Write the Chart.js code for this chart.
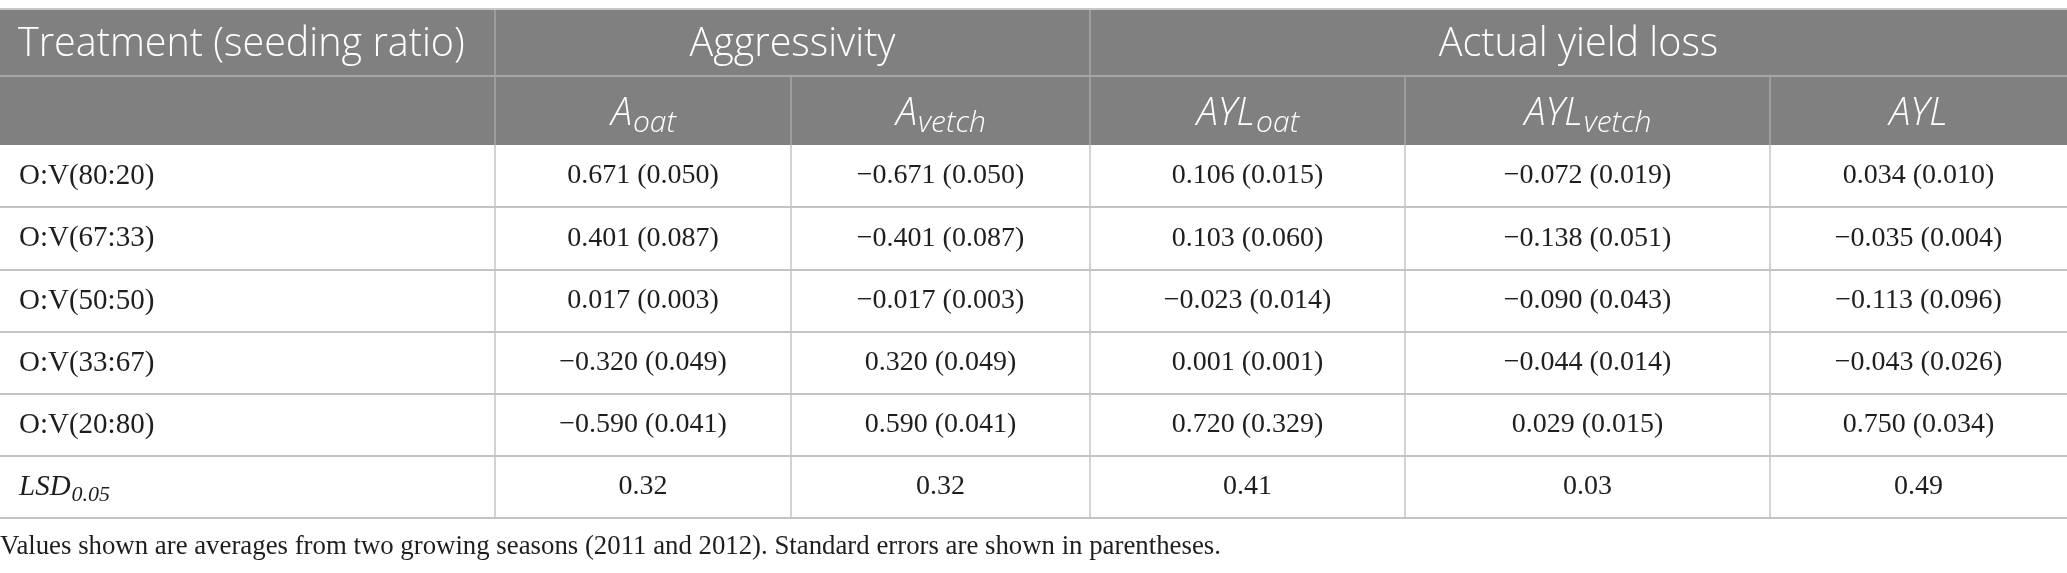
<!DOCTYPE html>
<html>
<head>
<meta charset="utf-8">
<script src="https://cdn.jsdelivr.net/npm/chart.js@4.4.0/dist/chart.umd.min.js"></script>
<style>
  html, body { margin: 0; padding: 0; background: #fff; }
  #wrap { width: 2067px; height: 573px; position: relative; }
</style>
</head>
<body>
<div id="wrap"><canvas id="tableChart"></canvas></div>
<script>
// table content
const groupHeaders = [
    { text: 'Treatment (seeding ratio)', from: 0, to: 1, align: 'left' },
    { text: 'Aggressivity', from: 1, to: 3 },
    { text: 'Actual yield loss', from: 3, to: 6 }
];
const subHeaders = [
    ['', ''],
    ['A', 'oat'],
    ['A', 'vetch'],
    ['AYL', 'oat'],
    ['AYL', 'vetch'],
    ['AYL', '']
];
const treatments = ['O:V(80:20)', 'O:V(67:33)', 'O:V(50:50)', 'O:V(33:67)', 'O:V(20:80)'];
const aOat = ['0.671 (0.050)', '0.401 (0.087)', '0.017 (0.003)', '\u22120.320 (0.049)', '\u22120.590 (0.041)'];
const aVetch = ['\u22120.671 (0.050)', '\u22120.401 (0.087)', '\u22120.017 (0.003)', '0.320 (0.049)', '0.590 (0.041)'];
const aylOat = ['0.106 (0.015)', '0.103 (0.060)', '\u22120.023 (0.014)', '0.001 (0.001)', '0.720 (0.329)'];
const aylVetch = ['\u22120.072 (0.019)', '\u22120.138 (0.051)', '\u22120.090 (0.043)', '\u22120.044 (0.014)', '0.029 (0.015)'];
const ayl = ['0.034 (0.010)', '\u22120.035 (0.004)', '\u22120.113 (0.096)', '\u22120.043 (0.026)', '0.750 (0.034)'];
const lsdLabel = ['LSD', '0.05'];
const lsdValues = ['0.32', '0.32', '0.41', '0.03', '0.49'];
const footnote = 'Values shown are averages from two growing seasons (2011 and 2012). Standard errors are shown in parentheses.';

// layout (in scale units == page pixels)
const colEdges = [0, 495, 791, 1090, 1405, 1770, 2067];
const rowEdges = [9, 76, 145, 207, 270, 332, 394, 456, 518];

const headerFont = '"Open Sans", "Noto Sans", sans-serif';
const bodyFont = '"Liberation Serif", "DejaVu Serif", serif';

// one point per body cell, sitting in the cell centre
const bodyColumns = [aOat, aVetch, aylOat, aylVetch, ayl];
const cellPoints = [];
const mid = (a, i) => (a[i] + a[i + 1]) / 2;
bodyColumns.forEach((col, c) => {
    col.forEach((txt, r) => {
        cellPoints.push({ x: mid(colEdges, c + 1), y: mid(rowEdges, r + 2), text: txt });
    });
});
lsdValues.forEach((txt, c) => {
    cellPoints.push({ x: mid(colEdges, c + 1), y: mid(rowEdges, 7), text: txt });
});

function drawSubscripted(ctx, base, sub, x, y, size, family, align, subScale, drop, weight) {
    const w = weight || '';
    const subSize = Math.round(size * subScale);
    ctx.font = 'italic ' + w + ' ' + size + 'px ' + family;
    const w1 = ctx.measureText(base).width;
    ctx.font = 'italic ' + w + ' ' + subSize + 'px ' + family;
    const w2 = sub ? ctx.measureText(sub).width : 0;
    let start = align === 'left' ? x : x - (w1 + w2) / 2;
    ctx.textAlign = 'left';
    ctx.font = 'italic ' + w + ' ' + size + 'px ' + family;
    ctx.fillText(base, start, y);
    if (sub) {
        ctx.font = 'italic ' + w + ' ' + subSize + 'px ' + family;
        ctx.fillText(sub, start + w1 + 1, y + size * drop);
    }
}

const tablePlugin = {
    id: 'tablePlugin',
    beforeDatasetsDraw(chart) {
        const { ctx, scales: { x, y } } = chart;
        const px = v => x.getPixelForValue(v);
        const py = v => y.getPixelForValue(v);
        const hline = (yv, x0, x1) => {
            ctx.beginPath();
            ctx.moveTo(px(x0), py(yv));
            ctx.lineTo(px(x1), py(yv));
            ctx.stroke();
        };
        const vline = (xv, y0, y1) => {
            ctx.beginPath();
            ctx.moveTo(px(xv), py(y0));
            ctx.lineTo(px(xv), py(y1));
            ctx.stroke();
        };
        ctx.save();
        // header background
        ctx.fillStyle = '#808080';
        ctx.fillRect(px(colEdges[0]), py(rowEdges[0]), px(colEdges[6]) - px(colEdges[0]), py(rowEdges[2]) - py(rowEdges[0]));

        // header lines
        ctx.strokeStyle = '#a6a6a6';
        ctx.lineWidth = 2;
        hline(rowEdges[1], colEdges[0], colEdges[6]);
        ctx.lineWidth = 1.5;
        [1, 3].forEach(c => vline(colEdges[c], rowEdges[0], rowEdges[2]));
        [2, 4, 5].forEach(c => vline(colEdges[c], rowEdges[1], rowEdges[2]));
        // top border
        ctx.strokeStyle = '#c8c8c8';
        ctx.lineWidth = 2;
        hline(rowEdges[0], colEdges[0], colEdges[6]);

        // body lines
        ctx.strokeStyle = '#c4c4c4';
        ctx.lineWidth = 2;
        for (let r = 3; r < rowEdges.length; r++) hline(rowEdges[r], colEdges[0], colEdges[6]);
        ctx.lineWidth = 1.5;
        for (let c = 1; c < colEdges.length - 1; c++) vline(colEdges[c], rowEdges[2], rowEdges[8]);
        ctx.restore();
    },
    afterDatasetsDraw(chart) {
        const { ctx, scales: { x, y } } = chart;
        const px = v => x.getPixelForValue(v);
        const py = v => y.getPixelForValue(v);
        ctx.save();
        ctx.textBaseline = 'alphabetic';
        ctx.fillStyle = '#ffffff';

        // group header row
        ctx.font = '300 39.5px ' + headerFont;
        groupHeaders.forEach(g => {
            const by = py(rowEdges[1]) - 20;
            if (g.align === 'left') {
                ctx.textAlign = 'left';
                ctx.fillText(g.text, px(colEdges[g.from]) + 18, by);
            } else {
                ctx.textAlign = 'center';
                ctx.fillText(g.text, (px(colEdges[g.from]) + px(colEdges[g.to])) / 2, by);
            }
        });

        // sub headers
        subHeaders.forEach((h, c) => {
            if (!h[0]) return;
            drawSubscripted(ctx, h[0], h[1], px(mid(colEdges, c)), py(rowEdges[2]) - 20, 38, headerFont, 'center', 0.78, 0.18, '300');
        });

        // body
        ctx.textBaseline = 'middle';
        ctx.fillStyle = '#1e1e1e';
        ctx.font = '29px ' + bodyFont;
        ctx.textAlign = 'left';
        treatments.forEach((t, r) => {
            ctx.fillText(t, px(colEdges[0]) + 19, py(mid(rowEdges, r + 2)));
        });
        drawSubscripted(ctx, lsdLabel[0], lsdLabel[1], px(colEdges[0]) + 19, py(mid(rowEdges, 7)), 29, bodyFont, 'left', 0.76, 0.3);

        ctx.font = '28px ' + bodyFont;
        ctx.textAlign = 'center';
        const meta = chart.getDatasetMeta(0);
        meta.data.forEach((pt, i) => {
            ctx.fillText(cellPoints[i].text, pt.x, pt.y);
        });

        // footnote
        ctx.textAlign = 'left';
        ctx.font = '26.8px ' + bodyFont;
        ctx.fillText(footnote, px(0), py(547));
        ctx.restore();
    }
};

new Chart(document.getElementById('tableChart'), {
    type: 'scatter',
    data: {
        datasets: [{
            data: cellPoints,
            pointRadius: 0,
            pointHoverRadius: 0
        }]
    },
    options: {
        responsive: true,
        maintainAspectRatio: false,
        animation: false,
        layout: { padding: 0 },
        plugins: {
            legend: { display: false },
            tooltip: { enabled: false }
        },
        scales: {
            x: { type: 'linear', min: 0, max: 2067, display: false },
            y: { type: 'linear', min: 0, max: 573, reverse: true, display: false }
        }
    },
    plugins: [tablePlugin]
});
</script>
</body>
</html>
